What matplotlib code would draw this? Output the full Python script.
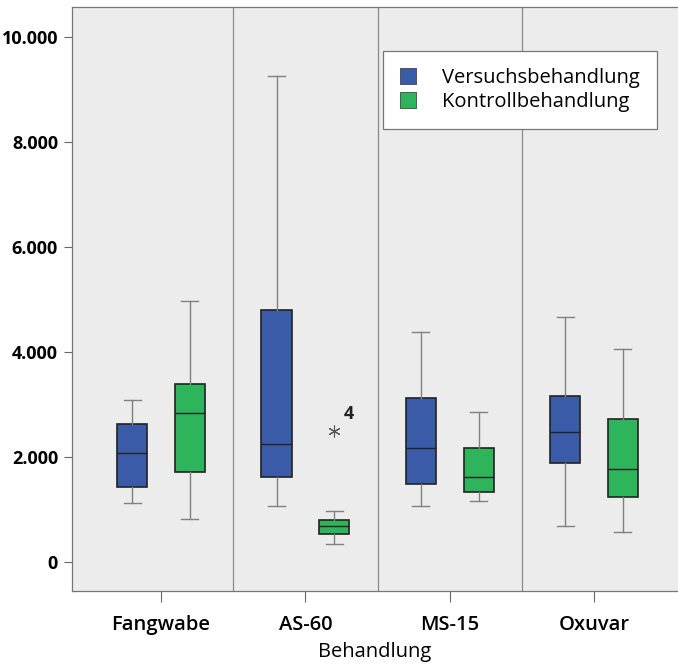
import numpy as np
import matplotlib
matplotlib.use("Agg")
import matplotlib.pyplot as plt
from matplotlib.patches import Patch
from matplotlib.ticker import FuncFormatter

plt.rcParams["font.family"] = ["Open Sans", "DejaVu Sans"]

# ---- data ------------------------------------------------------------------
groups = ["Fangwabe", "AS-60", "MS-15", "Oxuvar"]

versuch_lo = [1130, 1080, 1080, 690]
versuch_q1 = [1440, 1630, 1490, 1900]
versuch_med = [2075, 2250, 2170, 2490]
versuch_q3 = [2630, 4800, 3135, 3175]
versuch_hi = [3100, 9265, 4390, 4665]

kontroll_lo = [820, 345, 1175, 580]
kontroll_q1 = [1715, 540, 1335, 1245]
kontroll_med = [2840, 690, 1630, 1775]
kontroll_q3 = [3400, 805, 2170, 2725]
kontroll_hi = [4975, 985, 2870, 4070]
kontroll_fliers = [[], [2500], [], []]
flier_labels = {1: "4"}

series_names = ["Versuchsbehandlung", "Kontrollbehandlung"]
colors = ["#3a5ca8", "#2eb55b"]


def make_stats(lo, q1, med, q3, hi, fl=None):
    out = []
    for i in range(len(lo)):
        out.append(dict(whislo=lo[i], q1=q1[i], med=med[i], q3=q3[i],
                        whishi=hi[i], fliers=(fl[i] if fl else [])))
    return out


st_v = make_stats(versuch_lo, versuch_q1, versuch_med, versuch_q3, versuch_hi)
st_k = make_stats(kontroll_lo, kontroll_q1, kontroll_med, kontroll_q3,
                  kontroll_hi, kontroll_fliers)

fig = plt.figure(figsize=(6.78, 6.64), dpi=100)
ax = fig.add_axes([0.1062, 0.1099, 0.8938, 0.8796])
ax.set_facecolor("#ececed")

pos = np.arange(len(groups))
off, w = 0.2, 0.208
common = dict(widths=w, capwidths=0.118, patch_artist=True, manage_ticks=False,
              whiskerprops=dict(color="#808080", lw=1.0),
              capprops=dict(color="#808080", lw=1.0),
              medianprops=dict(color="#222222", lw=1.0),
              flierprops=dict(marker=(6, 2, 0), markersize=8.5,
                              markeredgecolor="#555555", markeredgewidth=0.8))
for stats, p, c in [(st_v, pos - off, colors[0]), (st_k, pos + off, colors[1])]:
    ax.bxp(stats, positions=p,
           boxprops=dict(facecolor=c, edgecolor="#222222", lw=1.2), **common)

for i, lab in flier_labels.items():
    ax.annotate(lab, (pos[i] + off, kontroll_fliers[i][0]), xytext=(7, 9),
                textcoords="offset points", fontsize=13, fontweight="bold",
                color="#222222")

for s in pos[:-1] + 0.5:
    ax.axvline(s, color="#8a8a8a", lw=0.9)

ax.set_xlim(-0.617, 3.582)
ax.set_ylim(-547, 10577)
ax.set_yticks(np.arange(0, 10001, 2000))
ax.yaxis.set_major_formatter(FuncFormatter(lambda v, _: f"{int(v):,}".replace(",", ".")))
ax.set_xticks(pos)
ax.set_xticklabels(groups, fontsize=14.5, fontweight="semibold")
ax.tick_params(axis="y", labelsize=13, length=6, color="#666666", pad=4)
ax.tick_params(axis="x", length=8, color="#666666", pad=9)
for t in ax.get_yticklabels():
    t.set_fontweight("bold")
ax.set_xlabel("Behandlung", fontsize=14.5, labelpad=5)

for sp in ["left", "bottom", "top"]:
    ax.spines[sp].set_color("#777777")
    ax.spines[sp].set_linewidth(0.9)
ax.spines["right"].set_visible(False)

handles = [Patch(facecolor=c, edgecolor="#444444", lw=0.6) for c in colors]
leg = ax.legend(handles, series_names, loc="upper left",
                bbox_to_anchor=(0.513, 0.925), fontsize=14.5, frameon=True,
                fancybox=False, edgecolor="#777777", framealpha=1,
                handlelength=0.8, handleheight=0.8, handletextpad=1.3,
                borderpad=0.85, labelspacing=0.2, borderaxespad=0)
leg.get_frame().set_linewidth(0.9)

fig.savefig("out.png", dpi=100)
